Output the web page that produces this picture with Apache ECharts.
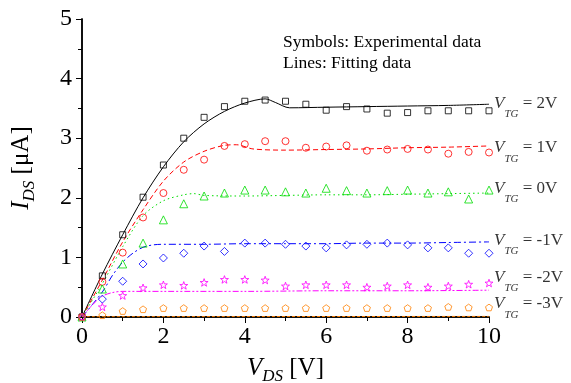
<!DOCTYPE html>
<html>
<head>
<meta charset="utf-8">
<script src="https://cdn.jsdelivr.net/npm/echarts@6/dist/echarts.min.js"></script>
<style>
  html, body { margin: 0; padding: 0; background: #fff; }
  #chart { width: 571px; height: 383px; }
</style>
</head>
<body>
<div id="chart"></div>
<script>
// experimental points, V_DS = 0..10 step 0.5
const expX = [0, 0.5, 1, 1.5, 2, 2.5, 3, 3.5, 4, 4.5, 5, 5.5, 6, 6.5, 7, 7.5, 8, 8.5, 9, 9.5, 10]
const exp2V = [0, 0.69, 1.38, 2.01, 2.55, 3.0, 3.35, 3.53, 3.62, 3.64, 3.62, 3.57, 3.47, 3.53, 3.49, 3.42, 3.43, 3.46, 3.46, 3.46, 3.46]
const exp1V = [0, 0.59, 1.08, 1.67, 2.08, 2.47, 2.64, 2.87, 2.9, 2.95, 2.95, 2.84, 2.86, 2.88, 2.79, 2.81, 2.82, 2.81, 2.74, 2.77, 2.76]
const exp0V = [0, 0.47, 0.89, 1.24, 1.63, 1.9, 2.03, 2.08, 2.13, 2.13, 2.1, 2.08, 2.16, 2.12, 2.08, 2.12, 2.13, 2.08, 2.1, 1.98, 2.13]
const expM1V = [0, 0.3, 0.6, 0.89, 0.99, 1.07, 1.19, 1.1, 1.24, 1.24, 1.22, 1.19, 1.16, 1.21, 1.22, 1.24, 1.21, 1.16, 1.16, 1.07, 1.07]
const expM2V = [0, 0.17, 0.36, 0.49, 0.54, 0.53, 0.58, 0.63, 0.63, 0.62, 0.52, 0.54, 0.54, 0.54, 0.5, 0.52, 0.54, 0.5, 0.52, 0.55, 0.57]
const expM3V = [0, 0.03, 0.1, 0.13, 0.15, 0.15, 0.15, 0.15, 0.15, 0.15, 0.15, 0.15, 0.15, 0.15, 0.15, 0.15, 0.15, 0.15, 0.17, 0.16, 0.16]

// fitting curves [V_DS, I_DS]
const fit2V = [[0,0],[0.5,0.72],[1,1.38],[1.5,2.0],[2,2.52],[2.5,2.94],[3,3.24],[3.5,3.45],[4,3.59],[4.5,3.66],[4.75,3.6],[5.1,3.51],[6,3.52],[7,3.53],[8,3.54],[9,3.55],[10,3.57]]
const fit1V = [[0,0],[0.5,0.62],[1,1.26],[1.5,1.8],[2,2.28],[2.5,2.6],[3,2.78],[3.5,2.88],[3.8,2.89],[4.2,2.82],[5,2.8],[6,2.81],[7,2.82],[8,2.84],[9,2.85],[10,2.87]]
const fit0V = [[0,0],[0.5,0.56],[1,1.18],[1.5,1.7],[2,1.95],[2.5,2.05],[2.75,2.07],[3,2.04],[4,2.03],[5,2.04],[6,2.05],[7,2.05],[8,2.06],[9,2.07],[10,2.08]]
const fitM1V = [[0,0],[0.5,0.42],[0.75,0.7],[1,0.92],[1.25,1.07],[1.5,1.17],[1.75,1.21],[2,1.22],[3,1.22],[4,1.23],[5,1.23],[6,1.23],[7,1.24],[8,1.24],[9,1.25],[10,1.26]]
const fitM2V = [[0,0],[0.25,0.2],[0.5,0.35],[0.75,0.41],[1,0.43],[2,0.43],[4,0.43],[6,0.44],[8,0.44],[10,0.45]]
const fitM3V = [[0,0.005],[10,0.01]]

// curve labels at the right edge
const vtgNames = ['2V', '1V', '0V', '-1V', '-2V', '-3V']
const vtgLabelY = [3.59, 2.84, 2.16, 1.29, 0.67, 0.22]

const serif = "'Liberation Serif', 'Times New Roman', serif"
const starPath = 'path://M0,-10L2.35,-3.24L9.51,-3.09L3.8,1.24L5.88,8.09L0,4L-5.88,8.09L-3.8,1.24L-9.51,-3.09L-2.35,-3.24Z'
const pentPath = 'path://M0,-10L9.51,-3.09L5.88,8.09L-5.88,8.09L-9.51,-3.09Z'

const groups = [
  { exp: exp2V, fit: fit2V, color: '#000000', symbol: 'rect', size: 6, dash: 'solid' },
  { exp: exp1V, fit: fit1V, color: '#ff0000', symbol: 'circle', size: 7, dash: [5, 3] },
  { exp: exp0V, fit: fit0V, color: '#00dd00', symbol: 'triangle', size: 8, dash: [1.5, 3] },
  { exp: expM1V, fit: fitM1V, color: '#0000ff', symbol: 'diamond', size: 8, dash: [7, 3, 2, 3] },
  { exp: expM2V, fit: fitM2V, color: '#ff00ff', symbol: starPath, size: 8, dash: [6, 2, 2, 2, 2, 2] },
  { exp: expM3V, fit: fitM3V, color: '#ff8000', symbol: pentPath, size: 7, dash: [3, 2] },
]

const series = []
groups.forEach(g => {
  series.push({
    type: 'line',
    data: g.fit,
    showSymbol: false,
    smooth: 0.3,
    lineStyle: { color: g.color, width: 1, type: g.dash },
    z: 3,
    silent: true
  })
  series.push({
    type: 'scatter',
    data: expX.map((x, i) => [x, g.exp[i]]),
    symbol: g.symbol,
    symbolSize: g.size,
    symbolKeepAspect: true,
    itemStyle: { color: 'rgba(0,0,0,0)', borderColor: g.color, borderWidth: 1 },
    z: 4,
    silent: true
  })
})

series.push({
  type: 'scatter',
  data: vtgLabelY.map((y, i) => ({ value: [10, y], name: vtgNames[i] })),
  symbolSize: 0,
  silent: true,
  label: {
    show: true,
    position: 'right',
    distance: 5,
    formatter: p => '{v|V}{s|TG}{t| = ' + p.name + '}',
    rich: {
      v: { fontFamily: serif, fontStyle: 'italic', fontSize: 17, color: '#000' },
      s: { fontFamily: serif, fontStyle: 'italic', fontSize: 11, color: '#000', padding: [22, 0, 0, 0] },
      t: { fontFamily: serif, fontSize: 17, color: '#000' }
    }
  }
})

const axisLine = { show: true, lineStyle: { color: '#000', width: 1.5 } }
const tickStyle = { color: '#000', width: 1 }

const option = {
  animation: false,
  backgroundColor: '#fff',
  grid: { left: 82, right: 82, top: 19, bottom: 66, containLabel: false, outerBoundsMode: 'none' },
  xAxis: [
    {
      type: 'value', min: 0, max: 10, interval: 2, position: 'bottom',
      axisLine: axisLine,
      axisTick: { show: true, inside: false, length: 6, lineStyle: tickStyle },
      minorTick: { show: true, splitNumber: 2, length: 4, lineStyle: tickStyle },
      axisLabel: { fontFamily: serif, fontSize: 24, color: '#000', margin: 8 },
      splitLine: { show: false },
      name: '{i|V}{s|DS}{t| [V]}',
      nameLocation: 'middle',
      nameGap: 35,
      nameTextStyle: {
        rich: {
          i: { fontFamily: serif, fontStyle: 'italic', fontSize: 25, color: '#000' },
          s: { fontFamily: serif, fontStyle: 'italic', fontSize: 17, color: '#000', padding: [16, 0, 0, 0] },
          t: { fontFamily: serif, fontSize: 25, color: '#000' }
        }
      }
    },
    {
      type: 'value', min: 0, max: 10, interval: 2, position: 'top',
      axisLine: axisLine,
      axisTick: { show: true, inside: true, length: 5, lineStyle: tickStyle },
      minorTick: { show: true, splitNumber: 2, length: 3, lineStyle: tickStyle },
      axisLabel: { show: false },
      splitLine: { show: false }
    }
  ],
  yAxis: [
    {
      type: 'value', min: 0, max: 5, interval: 1, position: 'left',
      axisLine: axisLine,
      axisTick: { show: true, inside: false, length: 6, lineStyle: tickStyle },
      minorTick: { show: true, splitNumber: 2, length: 4, lineStyle: tickStyle },
      axisLabel: { fontFamily: serif, fontSize: 24, color: '#000', margin: 10 },
      splitLine: { show: false },
      name: '{i|I}{s|DS}{t| [μA]}',
      nameLocation: 'middle',
      nameRotate: 90,
      nameGap: 44,
      nameTextStyle: {
        rich: {
          i: { fontFamily: serif, fontStyle: 'italic', fontSize: 25, color: '#000' },
          s: { fontFamily: serif, fontStyle: 'italic', fontSize: 17, color: '#000', padding: [16, 0, 0, 0] },
          t: { fontFamily: serif, fontSize: 25, color: '#000' }
        }
      }
    },
    {
      type: 'value', min: 0, max: 5, interval: 1, position: 'right',
      axisLine: axisLine,
      axisTick: { show: true, inside: true, length: 3, lineStyle: tickStyle },
      minorTick: { show: true, splitNumber: 2, length: 2, lineStyle: tickStyle },
      axisLabel: { show: false },
      splitLine: { show: false }
    }
  ],
  graphic: [
    {
      type: 'text', left: 283, top: 32,
      style: {
        text: 'Symbols: Experimental data\nLines: Fitting data',
        fontFamily: serif, fontSize: 17.5, lineHeight: 21, fill: '#000'
      }
    }
  ],
  series: series
}

const chart = echarts.init(document.getElementById('chart'))
chart.setOption(option)
</script>
</body>
</html>
